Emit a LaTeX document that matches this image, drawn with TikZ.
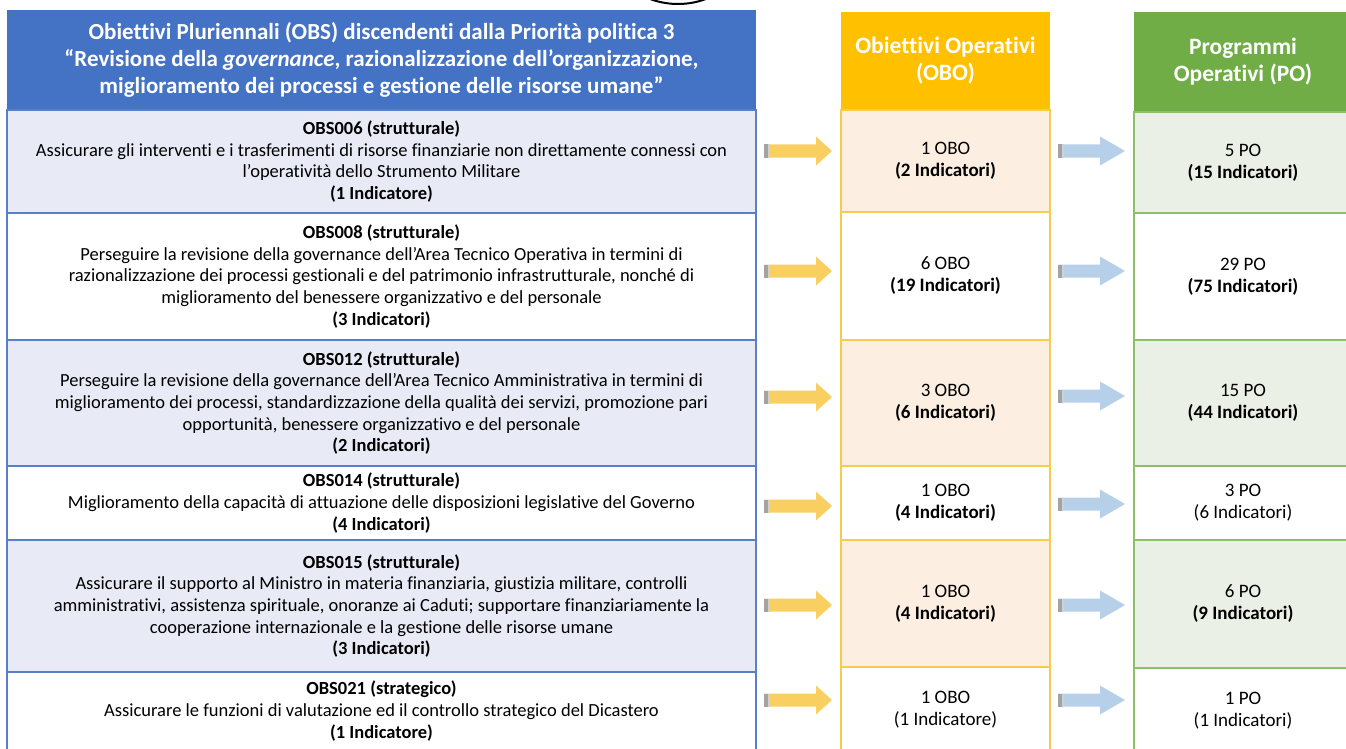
\documentclass[tikz,border=0pt]{standalone}
\usepackage{fontspec}
\setmainfont{Carlito}[Ligatures={TeX,NoCommon}]
\usetikzlibrary{calc}

\definecolor{obshead}{HTML}{4472C4}
\definecolor{obsline}{HTML}{5680C8}
\definecolor{obsfill}{HTML}{E8EBF5}
\definecolor{obohead}{HTML}{FFC000}
\definecolor{oboline}{HTML}{F7CB4D}
\definecolor{obofill}{HTML}{FCEFE2}
\definecolor{pohead}{HTML}{70AD47}
\definecolor{poline}{HTML}{8DBE6C}
\definecolor{pofill}{HTML}{EAF0E6}
\definecolor{arrowyellow}{HTML}{F9CF61}
\definecolor{arrowblue}{HTML}{B6D0EA}
\definecolor{stubgrey}{HTML}{A3A3A3}

% block arrow from one cell to the next, at a given height
% #1 source node, #2 target node, #3 y, #4 colour, #5 head length
\newcommand{\flowarrow}[5]{%
  \coordinate (fa-s) at ($(#1.east |- 0,#3)+(8,0)$);
  \coordinate (fa-t) at ($(#2.west |- 0,#3)+(-9,0)$);
  \fill[#4] ($(fa-s)+(0,-6.5)$) -- ($(fa-t)+(-#5,-6.5)$) -- ($(fa-t)+(-#5,-14.5)$)
    -- (fa-t) -- ($(fa-t)+(-#5,14.5)$) -- ($(fa-t)+(-#5,6.5)$) -- ($(fa-s)+(0,6.5)$) -- cycle;
  \fill[stubgrey] ($(fa-s)+(0,-6.5)$) rectangle ($(fa-s)+(3.5,6.5)$);
  \fill[stubgrey!50] ($(fa-s)+(3.5,-6.5)$) rectangle ($(fa-s)+(5.5,6.5)$);
}

\begin{document}
\begin{tikzpicture}[x=1pt,y=-1pt,
  cell/.style={rectangle, draw, line width=1.3pt, inner sep=0pt, outer sep=0pt,
    align=center, font=\fontsize{18.5}{21.7}\selectfont},
  headcell/.style={rectangle, inner sep=0pt, outer sep=0pt, align=center,
    text=white, font=\fontsize{23}{27}\selectfont\bfseries},
  colhead/.style={headcell, font=\fontsize{23.5}{27}\selectfont\bfseries},
  obs/.style={cell, draw=obsline, minimum width=749pt},
  obo/.style={cell, draw=oboline, minimum width=209pt, font=\fontsize{19}{22}\selectfont},
  po/.style={cell, draw=poline, minimum width=218pt, font=\fontsize{19}{22}\selectfont},
]
\useasboundingbox (0,0) rectangle (1346,749);
\clip (0,0) rectangle (1346,749);

% ring above the first header
\draw[line width=2pt] (678,-76) circle (80);

% ---- left column: multi-year objectives
\node[headcell, fill=obshead, minimum width=749pt, minimum height=100pt] (hs) at (381.5,60)
  {Obiettivi Pluriennali (OBS) discendenti dalla Priorità politica 3\\
   “Revisione della \textit{governance}, razionalizzazione dell’organizzazione,\\
   miglioramento dei processi e gestione delle risorse umane”};

\node[obs, fill=obsfill, minimum height=103pt] (s1) at (381.5,161.5)
  {\textbf{OBS006 (strutturale)}\\
   Assicurare gli interventi e i trasferimenti di risorse finanziarie non direttamente connessi con\\
   l’operatività dello Strumento Militare\\
   \textbf{(1 Indicatore)}};
\node[obs, fill=white, minimum height=127pt] (s2) at (381.5,276.5)
  {\textbf{OBS008 (strutturale)}\\
   Perseguire la revisione della governance dell'Area Tecnico Operativa in termini di\\
   razionalizzazione dei processi gestionali e del patrimonio infrastrutturale, nonché di\\
   miglioramento del benessere organizzativo e del personale\\
   \textbf{(3 Indicatori)}};
\node[obs, fill=obsfill, minimum height=126pt] (s3) at (381.5,403)
  {\textbf{OBS012 (strutturale)}\\
   Perseguire la revisione della governance dell'Area Tecnico Amministrativa in termini di\\
   miglioramento dei processi, standardizzazione della qualità dei servizi, promozione pari\\
   opportunità, benessere organizzativo e del personale\\
   \textbf{(2 Indicatori)}};
\node[obs, fill=white, minimum height=74pt] (s4) at (381.5,503)
  {\textbf{OBS014 (strutturale)}\\
   Miglioramento della capacità di attuazione delle disposizioni legislative del Governo\\
   \textbf{(4 Indicatori)}};
\node[obs, fill=obsfill, minimum height=132pt] (s5) at (381.5,606)
  {\textbf{OBS015 (strutturale)}\\
   Assicurare il supporto al Ministro in materia finanziaria, giustizia militare, controlli\\
   amministrativi, assistenza spirituale, onoranze ai Caduti; supportare finanziariamente la\\
   cooperazione internazionale e la gestione delle risorse umane\\
   \textbf{(3 Indicatori)}};
\node[obs, fill=white, minimum height=78pt] (s6) at (381.5,711)
  {\textbf{OBS021 (strategico)}\\
   Assicurare le funzioni di valutazione ed il controllo strategico del Dicastero\\
   \textbf{(1 Indicatore)}};

% ---- middle column: operational objectives
\node[colhead, fill=obohead, minimum width=209pt, minimum height=98pt] (ho) at (945.5,61)
  {Obiettivi Operativi\\(OBO)};
\node[obo, fill=obofill, minimum height=102pt] (o1) at (945.5,161) {1 OBO\\\textbf{(2 Indicatori)}};
\node[obo, fill=white,   minimum height=128pt] (o2) at (945.5,276) {6 OBO\\\textbf{(19 Indicatori)}};
\node[obo, fill=obofill, minimum height=126pt] (o3) at (945.5,403) {3 OBO\\\textbf{(6 Indicatori)}};
\node[obo, fill=white,   minimum height=74pt]  (o4) at (945.5,503) {1 OBO\\\textbf{(4 Indicatori)}};
\node[obo, fill=obofill, minimum height=127pt] (o5) at (945.5,603.5) {1 OBO\\\textbf{(4 Indicatori)}};
\node[obo, fill=white,   minimum height=86pt]  (o6) at (945.5,710) {1 OBO\\(1 Indicatore)};

% ---- right column: operational programmes
\node[colhead, fill=pohead, minimum width=218pt, minimum height=100pt] (hp) at (1243,62)
  {Programmi\\Operativi (PO)};
\node[po, fill=pofill, minimum height=101pt] (p1) at (1243,162.5) {5 PO\\\textbf{(15 Indicatori)}};
\node[po, fill=white,  minimum height=127pt] (p2) at (1243,276.5) {29 PO\\\textbf{(75 Indicatori)}};
\node[po, fill=pofill, minimum height=126pt] (p3) at (1243,403) {15 PO\\\textbf{(44 Indicatori)}};
\node[po, fill=white,  minimum height=74pt]  (p4) at (1243,503) {3 PO\\(6 Indicatori)};
\node[po, fill=pofill, minimum height=128pt] (p5) at (1243,604) {6 PO\\\textbf{(9 Indicatori)}};
\node[po, fill=white,  minimum height=86pt]  (p6) at (1243,711) {1 PO\\(1 Indicatori)};

% ---- block arrows between the columns
\flowarrow{s1}{o1}{151}{arrowyellow}{16}
\flowarrow{s2}{o2}{271}{arrowyellow}{16}
\flowarrow{s3}{o3}{397}{arrowyellow}{16}
\flowarrow{s4}{o4}{506}{arrowyellow}{16}
\flowarrow{s5}{o5}{605}{arrowyellow}{16}
\flowarrow{s6}{o6}{700}{arrowyellow}{16}

\flowarrow{o1}{p1}{151}{arrowblue}{25}
\flowarrow{o2}{p2}{271}{arrowblue}{25}
\flowarrow{o3}{p3}{396}{arrowblue}{25}
\flowarrow{o4}{p4}{504}{arrowblue}{25}
\flowarrow{o5}{p5}{605}{arrowblue}{25}
\flowarrow{o6}{p6}{700}{arrowblue}{25}
\end{tikzpicture}
\end{document}
